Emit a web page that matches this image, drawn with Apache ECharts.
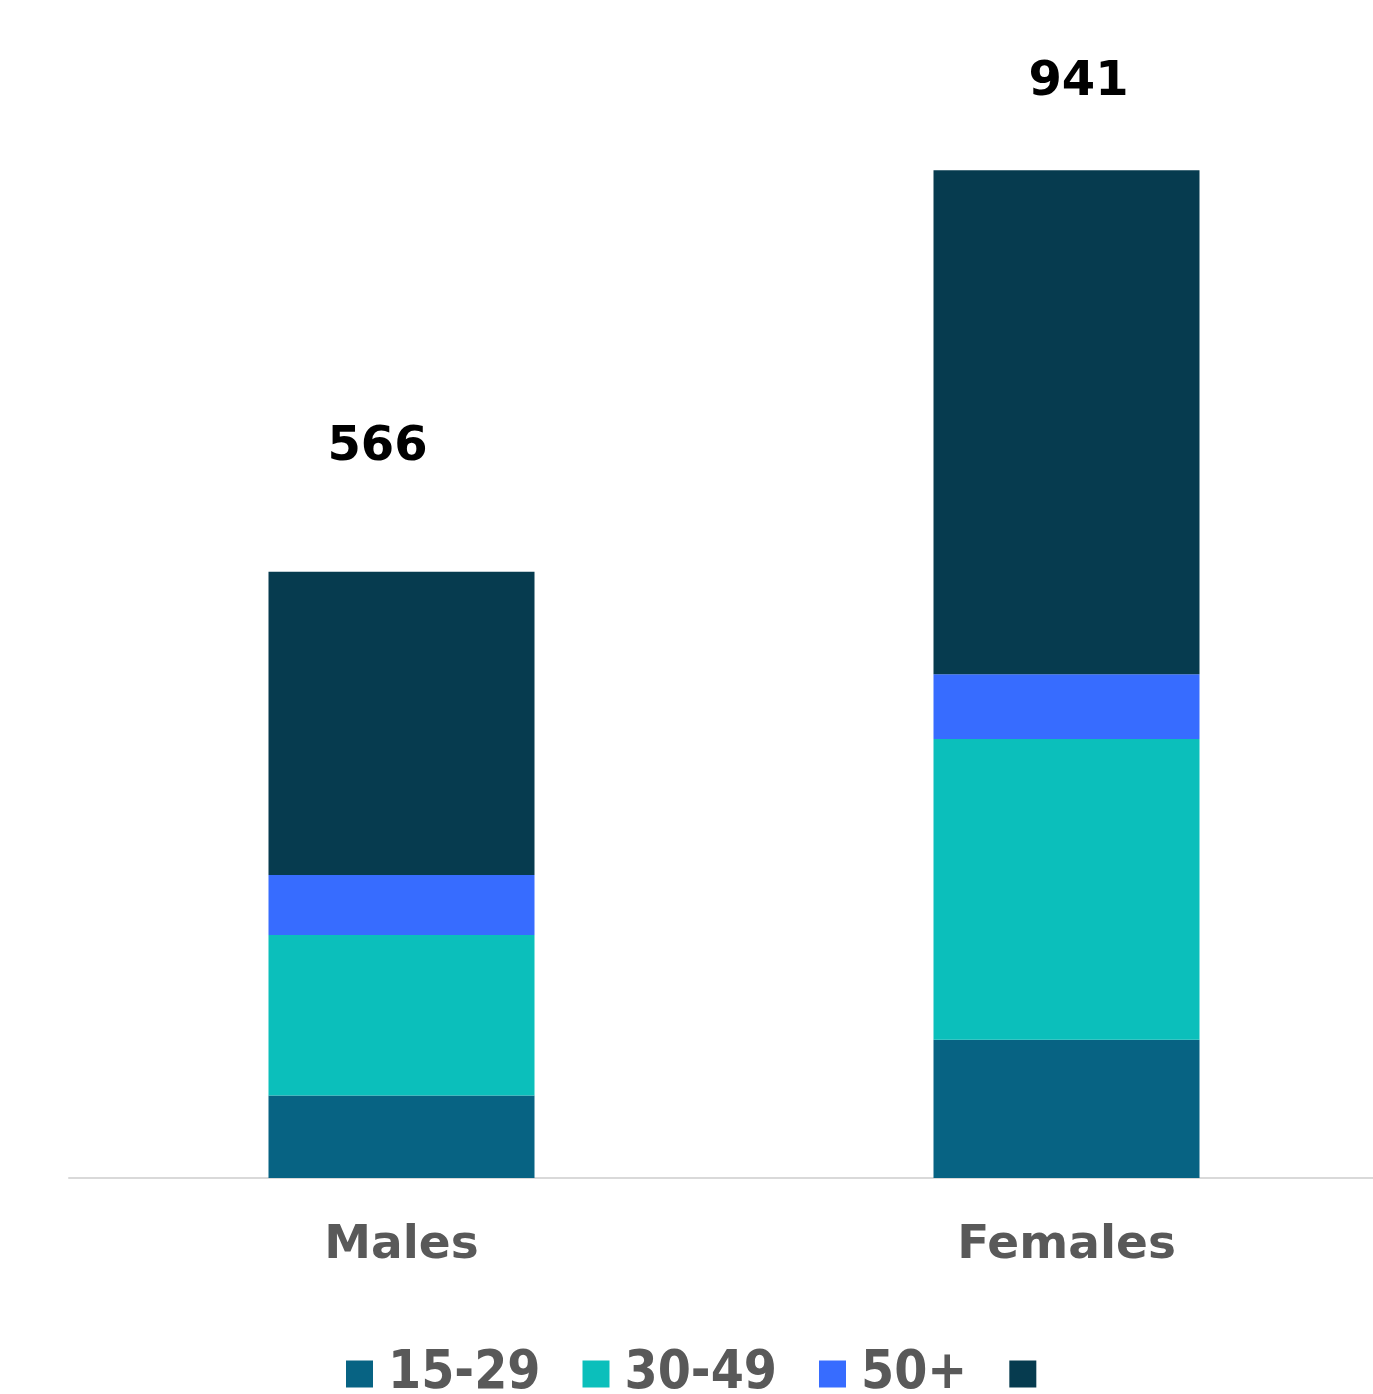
<!DOCTYPE html>
<html>
<head>
    <meta charset="utf-8">
    <title>ECharts</title>
    <script src="https://cdn.jsdelivr.net/npm/echarts@6/dist/echarts.min.js"></script>
    <style>
        html, body { margin: 0; padding: 0; background: #fff; }
    </style>
</head>
<body>
    <div id="main" style="width: 1373px;height:1394px;"></div>
    <script type="text/javascript">
        // categories and values
        var categories = ['Males', 'Females'];
        var age15to29 = [77, 129];
        var age30to49 = [150, 281];
        var age50plus = [56, 60.5];
        var topBlock = [283, 470.5];   // unnamed dark block on top

        var seriesNames = ['15-29', '30-49', '50+', ' '];
        var colors = ['#076383', '#0bbfbb', '#376cff', '#063b4f'];

        // where the total labels sit relative to the bar tops
        var labelOffsets = [[-24, -95], [12, -59]];

        var myChart = echarts.init(document.getElementById('main'));

        var allData = [age15to29, age30to49, age50plus, topBlock];

        var series = allData.map(function (vals, i) {
            var s = {
                name: seriesNames[i],
                type: 'bar',
                stack: 'total',
                barWidth: 266,
                itemStyle: { color: colors[i] },
                data: vals.slice()
            };
            if (i === allData.length - 1) {
                s.data = vals.map(function (v, j) {
                    return {
                        value: v,
                        label: {
                            show: true,
                            position: 'top',
                            offset: labelOffsets[j],
                            fontFamily: 'DejaVu Sans',
                            fontWeight: 'bold',
                            fontSize: 48,
                            color: '#000',
                            formatter: function (p) {
                                var sum = 0;
                                allData.forEach(function (arr) { sum += arr[p.dataIndex]; });
                                return Math.round(sum);
                            }
                        }
                    };
                });
            }
            return s;
        });

        var option = {
            animation: false,
            grid: {
                left: 69,
                top: 0,
                width: 1330,
                height: 1178,
                outerBoundsMode: 'none',
                containLabel: false
            },
            legend: {
                left: 346,
                top: 1347,
                padding: 0,
                itemWidth: 27,
                itemHeight: 27,
                itemGap: 42,
                icon: 'rect',
                textStyle: {
                    fontFamily: 'DejaVu Sans Condensed',
                    fontWeight: 'bold',
                    fontSize: 53,
                    lineHeight: 54,
                    color: '#595959',
                    padding: [0, 0, 0, 10]
                },
                data: seriesNames
            },
            xAxis: {
                type: 'category',
                data: categories,
                axisLine: { lineStyle: { color: '#d9d9d9', width: 2 } },
                axisTick: { show: false },
                axisLabel: {
                    margin: 44,
                    fontFamily: 'DejaVu Sans',
                    fontWeight: 'bold',
                    fontSize: 47,
                    color: '#595959'
                }
            },
            yAxis: {
                type: 'value',
                min: 0,
                max: 1100,
                show: false,
                splitLine: { show: false }
            },
            series: series
        };

        myChart.setOption(option);
    </script>
</body>
</html>
